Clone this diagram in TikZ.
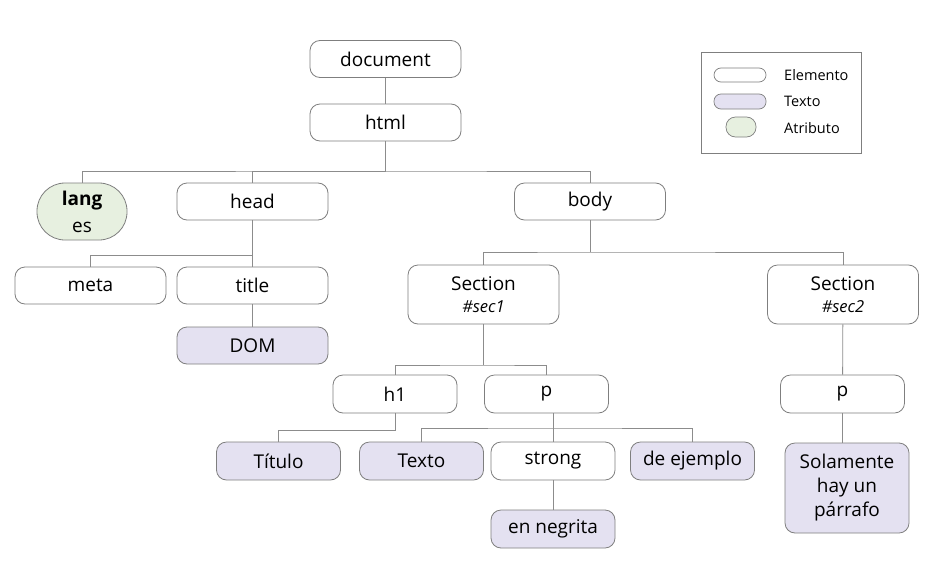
\documentclass[tikz,border=0pt]{standalone}
\usepackage{fontspec}
\setmainfont{Open Sans}
\usetikzlibrary{shapes.geometric}
\definecolor{bordc}{HTML}{7F7F7F}
\definecolor{linec}{HTML}{8C8C8C}
\definecolor{txtfill}{HTML}{E4E1F1}
\definecolor{attfill}{HTML}{E7F0E0}
\begin{document}
\begin{tikzpicture}[x=1pt,y=-1pt,
  elem/.style={draw=bordc,line width=0.8pt,rounded corners=10pt,fill=white,minimum width=151pt,minimum height=37pt,inner sep=0pt,align=center,font=\fontsize{19}{22}\selectfont},
  selem/.style={elem,minimum width=124pt,minimum height=38pt},
  txt/.style={elem,fill=txtfill},
  stxt/.style={selem,fill=txtfill},
  conn/.style={draw=linec,line width=0.8pt},
  legtxt/.style={anchor=west,inner sep=0pt,font=\fontsize{14.5}{16}\selectfont}]
\useasboundingbox (0,0) rectangle (928,570);
\fill[white] (0,0) rectangle (928,570);
% nodes
\node[draw=bordc,line width=0.8pt,fill=attfill,rounded corners=28pt,minimum width=90pt,minimum height=57pt,inner sep=0pt,align=center,font=\fontsize{19}{27}\selectfont] (lang) at (82,211.5) {\textbf{lang}\\es};
\node[elem] (doc) at (385.5,59) {document};
\node[elem] (html) at (385.5,122.5) {html};
\node[elem] (head) at (252.5,201.5) {head};
\node[elem] (body) at (590,201.5) {body};
\node[elem] (meta) at (90.5,285.5) {meta};
\node[elem] (title) at (252.5,285.5) {title};
\node[txt] (dom) at (252.5,345.5) {DOM};
\node[elem,minimum height=59pt,font=\fontsize{19}{22}\selectfont] (sec1) at (483.5,294.5) {Section\\{\fontsize{16.5}{19}\selectfont\itshape \#sec1}};
\node[elem,minimum height=59pt,font=\fontsize{19}{22}\selectfont] (sec2) at (843,294.5) {Section\\{\fontsize{16.5}{19}\selectfont\itshape \#sec2}};
\node[selem] (h1) at (395,394) {h1};
\node[selem] (p1) at (546.5,394) {p};
\node[selem] (p2) at (842.5,394) {p};
\node[stxt] (tit) at (278.5,461) {Título};
\node[stxt] (texto) at (421.5,461) {Texto};
\node[selem] (strong) at (553,461) {strong};
\node[stxt] (ejem) at (692.5,461) {de ejemplo};
\node[stxt] (negr) at (553,529) {en negrita};
\node[stxt,minimum width=124pt,minimum height=90pt,font=\fontsize{19}{24}\selectfont] (sola) at (847,488) {Solamente\\hay un\\párrafo};
% junctions
\coordinate (j1) at (385.5,171);
\coordinate (j2) at (252.5,255);
\coordinate (j3) at (590,252);
\coordinate (j4) at (483.5,365);
\coordinate (j5) at (395,430);
\coordinate (j6) at (553,428);
% connectors
\draw[conn] (doc) -- (html);
\draw[conn] (html) -- (j1);
\draw[conn] (lang.north) |- (j1) -| (body.north);
\draw[conn] (j1) -| (head.north);
\draw[conn] (head) -- (title);
\draw[conn] (j2) -| (meta.north);
\draw[conn] (title) -- (dom);
\draw[conn] (body.south) -- (j3);
\draw[conn] (sec1.north) |- (j3) -| (sec2.north);
\draw[conn] (sec1.south) -- (j4);
\draw[conn] (h1.north) |- (j4) -| (p1.north);
\draw[conn] (h1.south) -- (j5) -| (tit.north);
\draw[conn] (texto.north) |- (j6) -| (ejem.north);
\draw[conn] (j6 |- p1.south) -- (strong.north);
\draw[conn] (strong) -- (negr);
\draw[conn] (sec2) -- (p2);
\draw[conn] (p2.south) -- (p2.south |- sola.north);
% legend
\node[draw=bordc,line width=0.7pt,minimum width=160pt,minimum height=101pt,inner sep=0pt] (leg) at (781,102.5) {};
\node[draw=bordc,line width=0.7pt,fill=white,rounded corners=7pt,minimum width=52pt,minimum height=14pt,inner sep=0pt] (le1) at (740,75) {};
\node[draw=bordc,line width=0.7pt,fill=txtfill,rounded corners=7pt,minimum width=52pt,minimum height=15pt,inner sep=0pt] (le2) at (740,101.5) {};
\node[draw=bordc,line width=0.7pt,fill=attfill,rounded corners=9.5pt,minimum width=30pt,minimum height=20pt,inner sep=0pt] (le3) at (741,127) {};
\node[legtxt] (lt1) at (784,75) {Elemento};
\node[legtxt] (lt2) at (784,101) {Texto};
\node[legtxt] (lt3) at (784,128) {Atributo};
\end{tikzpicture}
\end{document}
